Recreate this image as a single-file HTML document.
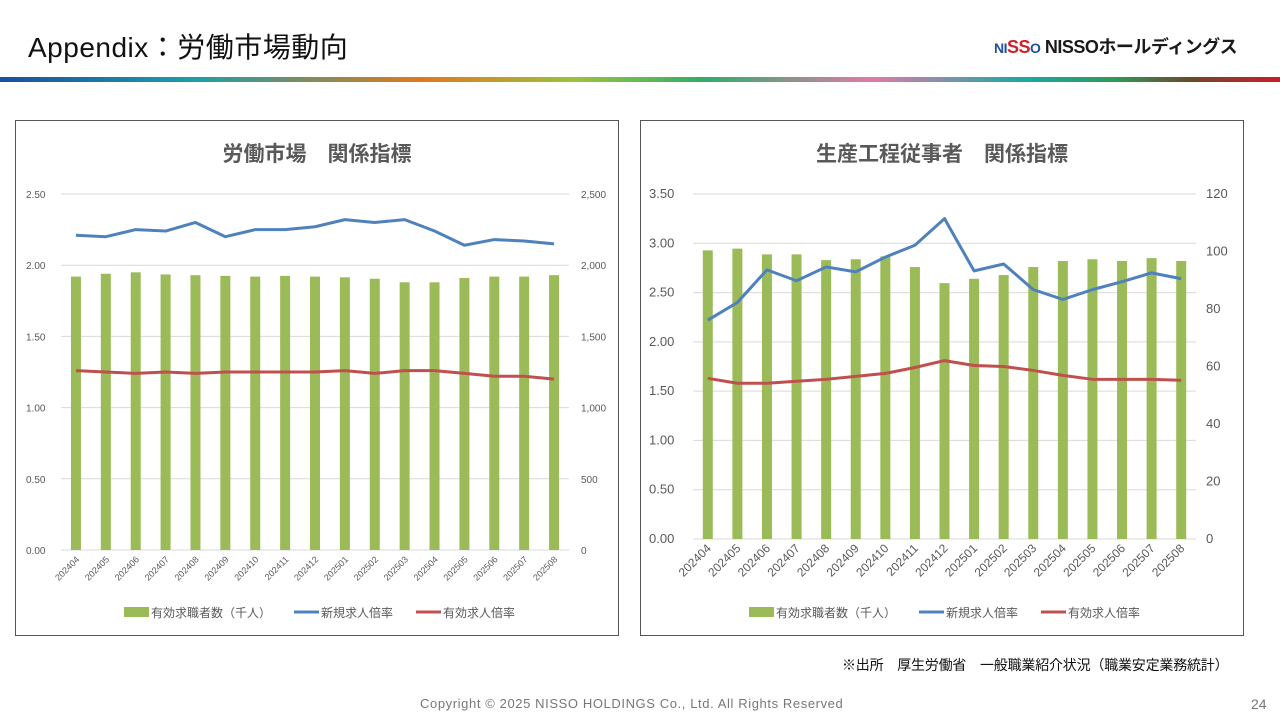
<!DOCTYPE html>
<html><head><meta charset="utf-8">
<style>
body{margin:0;width:1280px;height:720px;background:#fff;position:relative;overflow:hidden;font-family:"Liberation Sans","Noto Sans CJK JP",sans-serif;}
.title{position:absolute;left:28px;top:26px;font-size:28px;color:#111;letter-spacing:0.5px;}
.logo{position:absolute;left:994px;top:33px;font-size:18px;font-weight:bold;color:#1a1a1a;letter-spacing:-0.5px;}
.logo .n{color:#1f4fa0;font-size:14px}.logo .s{color:#d0202a}
.bar{position:absolute;left:0;top:77px;width:1280px;height:5px;background:linear-gradient(90deg,#1a4fa0 0%,#1aa0a8 15%,#e07a1a 33%,#9cc23a 45%,#2fae6a 55%,#e07aa8 68%,#1aa8a8 80%,#2f9a5a 87%,#6a4a2a 93%,#d01a2a 100%);}
.box{position:absolute;border:1px solid #555;background:#fff;}
.src{position:absolute;left:842px;top:655px;font-size:14px;color:#111;letter-spacing:-0.2px;}
.copy{position:absolute;left:420px;top:696px;font-size:13px;color:#777;letter-spacing:0.6px;}
.pg{position:absolute;left:1251px;top:696px;font-size:14px;color:#777;}
</style></head><body>
<div class="title">Appendix：労働市場動向</div>
<div class="logo"><span class="n">NI</span><span class="s">SS</span><span class="n">O</span> NISSOホールディングス</div>
<div class="bar"></div>
<div class="box" style="left:15px;top:120px;width:602px;height:514px"><svg id="c1" width="602" height="514"></svg></div>
<div class="box" style="left:640px;top:120px;width:602px;height:514px"><svg id="c2" width="602" height="514"></svg></div>
<div class="src">※出所　厚生労働省　一般職業紹介状況（職業安定業務統計）</div>
<div class="copy">Copyright © 2025 NISSO HOLDINGS Co., Ltd. All Rights Reserved</div>
<div class="pg">24</div>
<script>
const categories=["202404","202405","202406","202407","202408","202409","202410","202411","202412","202501","202502","202503","202504","202505","202506","202507","202508"];
const bars1=[1920,1940,1950,1935,1930,1925,1920,1925,1920,1915,1905,1880,1880,1910,1920,1920,1930];
const newRatio1=[2.21,2.20,2.25,2.24,2.30,2.20,2.25,2.25,2.27,2.32,2.30,2.32,2.24,2.14,2.18,2.17,2.15];
const effRatio1=[1.26,1.25,1.24,1.25,1.24,1.25,1.25,1.25,1.25,1.26,1.24,1.26,1.26,1.24,1.22,1.22,1.20];
const leftTicks1=["0.00","0.50","1.00","1.50","2.00","2.50"];
const rightTicks1=["0","500","1,000","1,500","2,000","2,500"];
const bars2=[100.4,101,99,99,97,97.3,98.3,94.6,89,90.5,91.8,94.6,96.7,97.3,96.7,97.7,96.7];
const newRatio2=[2.22,2.40,2.73,2.62,2.76,2.71,2.86,2.98,3.25,2.72,2.79,2.53,2.43,2.53,2.61,2.70,2.64];
const effRatio2=[1.63,1.58,1.58,1.60,1.62,1.65,1.68,1.74,1.81,1.76,1.75,1.71,1.66,1.62,1.62,1.62,1.61];
const leftTicks2=["0.00","0.50","1.00","1.50","2.00","2.50","3.00","3.50"];
const rightTicks2=["0","20","40","60","80","100","120"];
const NS="http://www.w3.org/2000/svg";
function mk(svg,tag,attrs,text){const e=document.createElementNS(NS,tag);for(const k in attrs)e.setAttribute(k,attrs[k]);if(text!==undefined)e.textContent=text;svg.appendChild(e);return e;}
function draw(id,o){
 const svg=document.getElementById(id);
 const L=o.L,R=o.R,T=o.T,B=o.B;
 const yL=v=>B-(v/o.lmax)*(B-T), yR=v=>B-(v/o.rmax)*(B-T);
 const step=(R-L)/categories.length, xc=i=>L+step*(i+0.5);
 let t=mk(svg,'text',{x:301,y:40,'text-anchor':'middle','font-size':21,'font-weight':'bold',fill:'#595959'},o.title);
 
 o.lt.forEach((s,i)=>{const v=parseFloat(s);const y=yL(v);
  const g=mk(svg,'line',{x1:L,x2:R,y1:y,y2:y,stroke:'#d9d9d9','stroke-width':1});
  
  const tx=mk(svg,'text',{x:o.lx,y:y+4,'font-size':o.fs,fill:'#595959'},s);
  });
 o.rt.forEach((s,i)=>{const v=parseFloat(s.replace(/,/g,''));const y=yR(v);
  const tx=mk(svg,'text',{x:o.rx,y:y+4,'font-size':o.fs,fill:'#595959'},s);
  });
 o.bars.forEach((v,i)=>{const y=yR(v);
  const r=mk(svg,'rect',{x:xc(i)-o.bw/2,y:y,width:o.bw,height:B-y,fill:'#9bbb59'});
  });
 [[o.n,'#4f81bd','new-ratio-line'],[o.e,'#c0504d','effective-ratio-line']].forEach(([arr,c,nm])=>{
  const p=mk(svg,'polyline',{points:arr.map((v,i)=>xc(i)+','+yL(v)).join(' '),fill:'none',stroke:c,'stroke-width':3,'stroke-linejoin':'round'});
  });
 categories.forEach((c,i)=>{const x=xc(i)+4,y=B+10;
  const tx=mk(svg,'text',{x:x,y:y,'font-size':o.xfs,fill:'#595959','text-anchor':'end',transform:'rotate(-45 '+x+' '+y+')'},c);
  });
 const ly=492;
 let r=mk(svg,'rect',{x:108,y:ly-6,width:25,height:10,fill:'#9bbb59'});
 
 let tx=mk(svg,'text',{x:135,y:ly+4,'font-size':12,fill:'#595959'},'有効求職者数（千人）');
 
 let l=mk(svg,'line',{x1:278,x2:303,y1:ly-1,y2:ly-1,stroke:'#4f81bd','stroke-width':3});
 
 tx=mk(svg,'text',{x:305,y:ly+4,'font-size':12,fill:'#595959'},'新規求人倍率');
 
 l=mk(svg,'line',{x1:400,x2:425,y1:ly-1,y2:ly-1,stroke:'#c0504d','stroke-width':3});
 
 tx=mk(svg,'text',{x:427,y:ly+4,'font-size':12,fill:'#595959'},'有効求人倍率');
 
}
draw('c1',{title:'労働市場　関係指標',L:45,R:553,T:73,B:429,lmax:2.5,rmax:2500,lt:leftTicks1,rt:rightTicks1,lx:10,rx:565,fs:10,xfs:9,bw:10,bars:bars1,n:newRatio1,e:effRatio1});
draw('c2',{title:'生産工程従事者　関係指標',L:52,R:555,T:73,B:418,lmax:3.5,rmax:120,lt:leftTicks2,rt:rightTicks2,lx:8,rx:565,fs:13,xfs:12,bw:10,bars:bars2,n:newRatio2,e:effRatio2});
</script>
</body></html>
